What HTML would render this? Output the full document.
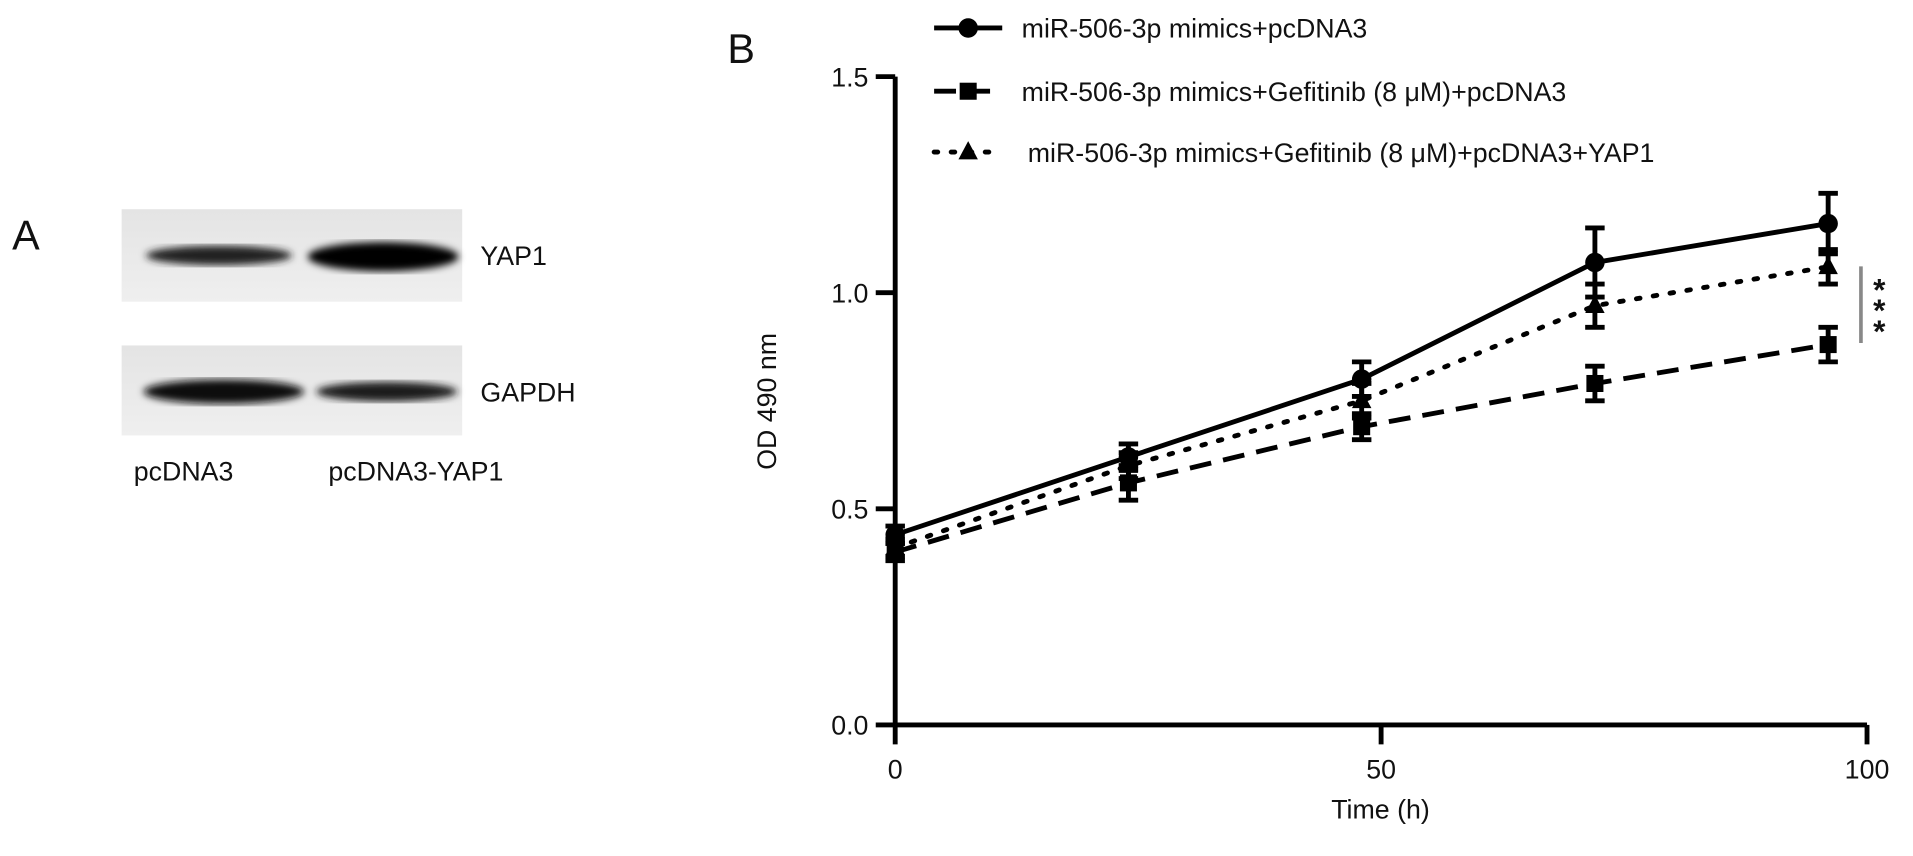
<!DOCTYPE html>
<html><head><meta charset="utf-8"><style>
body{margin:0;background:#fff;}
svg text{font-family:"Liberation Sans",Arial,sans-serif;fill:#111;}
</style></head><body>
<svg id="fig" width="1913" height="851" xmlns="http://www.w3.org/2000/svg">
<defs>
<linearGradient id="g1" x1="0" y1="0" x2="0" y2="1"><stop offset="0" stop-color="#e4e4e4"/><stop offset="1" stop-color="#efefef"/></linearGradient>
<filter id="bl"><feGaussianBlur stdDeviation="3"/></filter>
</defs>
<g transform="scale(1.2163)">
<text x="10" y="205" font-size="34">A</text>
<g>
<rect x="100" y="172" width="280" height="76" fill="url(#g1)"/>
<ellipse cx="180" cy="210" rx="60" ry="8" fill="#222" filter="url(#bl)"/>
<ellipse cx="315" cy="211" rx="62" ry="12" fill="#000" filter="url(#bl)"/>
</g>
<g>
<rect x="100" y="284" width="280" height="74" fill="url(#g1)"/>
<ellipse cx="184" cy="322" rx="66" ry="10" fill="#111" filter="url(#bl)"/>
<ellipse cx="318" cy="322" rx="58" ry="8" fill="#1a1a1a" filter="url(#bl)"/>
</g>
<text x="395" y="218" font-size="22">YAP1</text>
<text x="395" y="330" font-size="22">GAPDH</text>
<text x="110" y="395" font-size="22">pcDNA3</text>
<text x="270" y="395" font-size="22">pcDNA3-YAP1</text>
<text x="598" y="52" font-size="34">B</text>
<g id="chart"></g>
</g>
</svg>
<script>
const times=[0,24,48,72,96];
const solidVals=[0.44,0.62,0.80,1.07,1.16];
const solidErr=[0.02,0.03,0.04,0.08,0.07];
const dashedVals=[0.40,0.56,0.69,0.79,0.88];
const dashedErr=[0.02,0.04,0.03,0.04,0.04];
const dottedVals=[0.41,0.60,0.75,0.97,1.06];
const dottedErr=[0.02,0.03,0.04,0.05,0.04];
const yTicks=[0,0.5,1.0,1.5];
const yTickLabels=["0.0","0.5","1.0","1.5"];
const xTicks=[0,50,100];
const legendLabels=["miR-506-3p mimics+pcDNA3","miR-506-3p mimics+Gefitinib (8 \u03bcM)+pcDNA3","miR-506-3p mimics+Gefitinib (8 \u03bcM)+pcDNA3+YAP1"];
const NS="http://www.w3.org/2000/svg";
const g=document.getElementById('chart');
const X=v=>736+v*(1535-736)/100;
const Y=v=>596-v*(596-63)/1.5;
function mk(t,a,p){const e=document.createElementNS(NS,t);for(const k in a)e.setAttribute(k,a[k]);(p||g).appendChild(e);return e;}
let ax=mk('line',{x1:X(0),y1:Y(0),x2:X(0),y2:Y(1.5),stroke:'#000','stroke-width':4});


ax=mk('line',{x1:X(0),y1:Y(0),x2:X(100),y2:Y(0),stroke:'#000','stroke-width':4});


yTicks.forEach((v,i)=>{
 const t=mk('line',{x1:X(0)-16,y1:Y(v),x2:X(0),y2:Y(v),stroke:'#000','stroke-width':4});
 
 
 const l=mk('text',{x:X(0)-22,y:Y(v)+8,'font-size':22,'text-anchor':'end'});l.textContent=yTickLabels[i];
 
 
});
xTicks.forEach(v=>{
 const t=mk('line',{x1:X(v),y1:Y(0),x2:X(v),y2:Y(0)+16,stroke:'#000','stroke-width':4});
 
 
 const l=mk('text',{x:X(v),y:Y(0)+44,'font-size':22,'text-anchor':'middle'});l.textContent=String(v);
 
 
});
let tt=mk('text',{x:1135,y:673,'font-size':22,'text-anchor':'middle'});tt.textContent='Time (h)';


tt=mk('text',{x:638,y:330,'font-size':22,'text-anchor':'middle',transform:'rotate(-90 638 330)'});tt.textContent='OD 490 nm';


function marker(type,x,y,p){
 if(type==='circle')return mk('circle',{cx:x,cy:y,r:8,fill:'#000'},p);
 if(type==='square')return mk('rect',{x:x-7,y:y-7,width:14,height:14,fill:'#000'},p);
 return mk('polygon',{points:`${x},${y-9} ${x-8},${y+6} ${x+8},${y+6}`,fill:'#000'},p);
}
const series=[
 {name:'series-mimics-pcdna3',vals:solidVals,err:solidErr,dash:'',m:'circle'},
 {name:'series-gefitinib-pcdna3',vals:dashedVals,err:dashedErr,dash:'18 10',m:'square'},
 {name:'series-gefitinib-yap1',vals:dottedVals,err:dottedErr,dash:'3 11',m:'triangle'}
];
series.forEach((s,si)=>{
 const sg=mk('g',{});
 
 
 mk('polyline',{points:times.map((t,i)=>X(t)+','+Y(s.vals[i])).join(' '),fill:'none',stroke:'#000','stroke-width':4,'stroke-dasharray':s.dash,'stroke-linecap':si==2?'round':'butt'},sg);
 times.forEach((t,i)=>{
  const x=X(t),y1=Y(s.vals[i]+s.err[i]),y2=Y(s.vals[i]-s.err[i]);
  const eb=mk('path',{d:`M${x},${y1}V${y2}M${x-8},${y1}H${x+8}M${x-8},${y2}H${x+8}`,stroke:'#000','stroke-width':4,fill:'none'},sg);
  
  
  const mm=marker(s.m,x,Y(s.vals[i]),sg);
  
  
 });
 const ly=[23,75,125][si];
 const lg=mk('g',{});
 
 
 mk('line',{x1:768,y1:ly,x2:824,y2:ly,stroke:'#000','stroke-width':4,'stroke-dasharray':s.dash,'stroke-linecap':si==2?'round':'butt'},lg);
 marker(s.m,796,ly,lg);
 const lt=mk('text',{x:si==2?845:840,y:ly+8,'font-size':22},lg);lt.textContent=legendLabels[si];
});
const br=mk('line',{x1:1530,y1:219,x2:1530,y2:282,stroke:'#888','stroke-width':3});


[247,264,281].forEach(y=>{const s=mk('text',{x:1540,y:y,'font-size':26,'font-weight':'bold'});s.textContent='*';
 
 });
</script>
</body></html>
